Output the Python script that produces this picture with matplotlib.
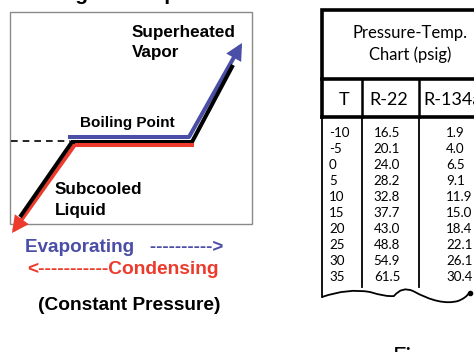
import matplotlib
matplotlib.use('Agg')
import matplotlib.pyplot as plt
from matplotlib.patches import FancyArrowPatch, PathPatch, Rectangle
from matplotlib.path import Path

# ---- table data (psig) ----
temps = [-10, -5, 0, 5, 10, 15, 20, 25, 30, 35]
r22 = [16.5, 20.1, 24.0, 28.2, 32.8, 37.7, 43.0, 48.8, 54.9, 61.5]
r134a = [1.9, 4.0, 6.5, 9.1, 11.9, 15.0, 18.4, 22.1, 26.1, 30.4]
col_labels = ['T', 'R-22', 'R-134a']

# ---- phase diagram geometry (pixel space of the figure) ----
black_x = [20, 72, 192, 233]
black_y = [217, 142, 142, 65]
red_x = [194, 75, 12]
red_y = [144.5, 144.5, 233]
blue_x = [68, 189, 242]
blue_y = [137, 137, 43]

BLUE = '#4a4ea6'
RED = '#ec3b2c'
SANS = 'Liberation Sans'
TABLE_FONT = 'Lato'

fig = plt.figure(figsize=(4.74, 3.52), dpi=100)
ax = fig.add_axes([0, 0, 1, 1])
ax.set_xlim(0, 474)
ax.set_ylim(352, 0)
ax.axis('off')

# ========== left panel: change of state ==========
# title is cropped off in the source, only the descenders remain
ax.text(17, 0.3, 'Boiling vs Temperature', fontsize=15, fontweight='bold',
        family=SANS, va='baseline', ha='left')
ax.add_patch(Rectangle((10.5, 12), 242, 212, fill=False, ec='#8a8a8a', lw=1.0))

ax.plot([11, 70], [141, 141], color='black', lw=1.2, ls=(0, (4, 3)))

lw = 2.9
ax.plot(black_x, black_y, color='black', lw=lw, solid_joinstyle='miter',
        solid_capstyle='butt')

ax.plot(red_x[:2], red_y[:2], color=RED, lw=lw, solid_capstyle='butt')
ax.add_patch(FancyArrowPatch((red_x[1], red_y[1]), (red_x[2], red_y[2]),
                             arrowstyle='-|>,head_length=0.75,head_width=0.38',
                             mutation_scale=10, color=RED, lw=lw,
                             shrinkA=0, shrinkB=0, joinstyle='miter'))

ax.plot(blue_x[:2], blue_y[:2], color=BLUE, lw=lw, solid_capstyle='butt')
ax.add_patch(FancyArrowPatch((blue_x[1], blue_y[1]), (blue_x[2], blue_y[2]),
                             arrowstyle='-|>,head_length=0.75,head_width=0.38',
                             mutation_scale=10, color=BLUE, lw=lw,
                             shrinkA=0, shrinkB=0, joinstyle='miter'))

bold = dict(fontweight='bold', family=SANS, color='black')
ax.text(132, 32, 'Superheated', fontsize=12.3, va='center', **bold)
ax.text(132, 53, 'Vapor', fontsize=12.3, va='center', **bold)
ax.text(80, 123, 'Boiling Point', fontsize=11, va='center', **bold)
ax.text(55, 190, 'Subcooled', fontsize=12.3, va='center', **bold)
ax.text(55, 211, 'Liquid', fontsize=12.3, va='center', **bold)

ax.text(25, 247, 'Evaporating   ---------->', fontsize=13.6, fontweight='bold',
        family=SANS, color=BLUE, va='center')
ax.text(27, 270, '<-----------Condensing', fontsize=13.8, fontweight='bold',
        family=SANS, color=RED, va='center')
ax.text(38, 306, '(Constant Pressure)', fontsize=13.8, va='center', **bold)

# ========== right panel: pressure-temperature table ==========
thick = 2.6
thin = 1.3
ax.plot([480, 322, 322], [9.5, 9.5, 117], color='black', lw=thick,
        solid_joinstyle='miter')
ax.plot([322, 480], [79, 79], color='black', lw=thick)
ax.plot([322, 480], [117, 117], color='black', lw=thick)
for cx in [362.5, 419]:
    ax.plot([cx, cx], [79, 117], color='black', lw=1.8)
    ax.plot([cx, cx], [117, 287], color='black', lw=thin)
ax.plot([322, 322], [117, 297], color='black', lw=thin)

wave = Path([(322, 297), (348, 288), (370, 292), (386, 297), (394, 296),
             (402, 286), (413, 291), (440, 306), (458, 301), (466, 298),
             (469, 293)],
            [Path.MOVETO, Path.CURVE3, Path.CURVE3, Path.CURVE3, Path.CURVE3,
             Path.CURVE3, Path.CURVE3, Path.CURVE3, Path.CURVE3, Path.CURVE3,
             Path.CURVE3])
ax.add_patch(PathPatch(wave, fill=False, ec='black', lw=thin))
ax.plot([470], [293], 'o', color='black', ms=3)

tf = dict(family=TABLE_FONT, color='black')
ax.text(410, 33, 'Pressure-Temp.', fontsize=12, ha='center', va='center', **tf)
ax.text(410, 55, 'Chart (psig)', fontsize=12, ha='center', va='center', **tf)
ax.text(344, 100, col_labels[0], fontsize=13, ha='center', va='center', **tf)
ax.text(389, 100, col_labels[1], fontsize=13, ha='center', va='center', **tf)
ax.text(423, 100, col_labels[2], fontsize=13, ha='left', va='center', **tf)

for i, (t, a, b) in enumerate(zip(temps, r22, r134a)):
    y = 133 + 16 * i
    ax.text(329, y, f'{t}', fontsize=9.6, ha='left', va='center', **tf)
    ax.text(387, y, f'{a:.1f}', fontsize=9.6, ha='center', va='center', **tf)
    ax.text(446, y, f'{b:.1f}', fontsize=9.6, ha='left', va='center', **tf)

# caption below the table, cropped at the bottom edge
ax.text(393, 364, 'Figure', fontsize=17, ha='left', va='baseline', **tf)

fig.savefig('out.png', dpi=100)
plt.close(fig)
